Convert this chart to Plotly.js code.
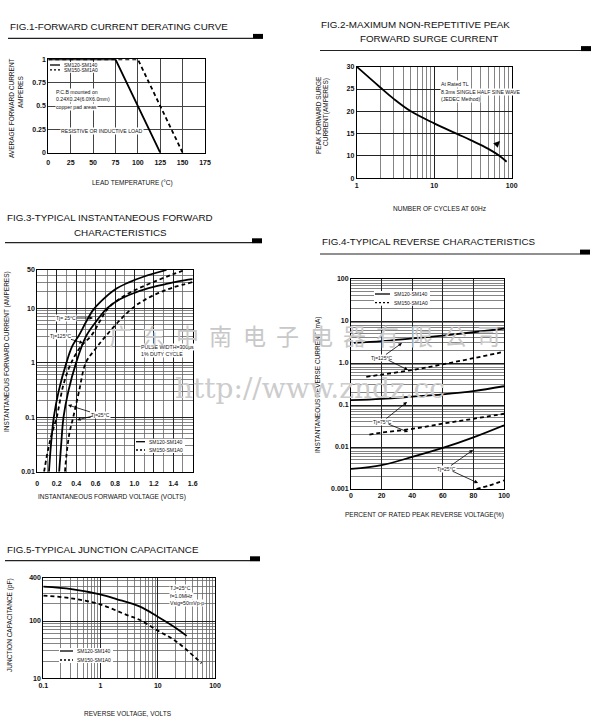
<!DOCTYPE html>
<html><head><meta charset="utf-8">
<script src="https://cdn.plot.ly/plotly-3.0.1.min.js"></script>
<style>body{margin:0;background:#fff}#chart{width:600px;height:725px}</style>
</head><body><div id="chart"></div>
<script>
// ---------------- DATA ----------------
// Fig.1 forward current derating
const f1Temp_SM120_140 = [0, 75, 125];
const f1Curr_SM120_140 = [1, 1, 0];
const f1Temp_SM150_1A0 = [0, 100, 150];
const f1Curr_SM150_1A0 = [1, 1, 0];
const f1XTicks = [0, 25, 50, 75, 100, 125, 150, 175];
const f1YTicks = [0, 0.25, 0.5, 0.75, 1];
const f1YTickText = ["0", "0.25", "0.5", "0.75", "1"];

// Fig.2 surge current (axis printed as 0,10,15,20,25,30 at equal spacing)
const f2Cycles = [1, 2, 3, 5, 10, 20, 30, 50, 70, 86];
const f2Surge = [30, 25.4, 22.8, 20.0, 17.3, 14.9, 13.5, 11.6, 10, 8.7];
const f2XTicks = [1, 10, 100];
const f2YTicks = [5, 10, 15, 20, 25, 30];
const f2YTickText = ["0", "10", "15", "20", "25", "30"];

// Fig.3 forward characteristics
const f3V_solidA = [0.12, 0.14, 0.17, 0.22, 0.30, 0.36, 0.43, 0.50, 0.57, 0.65, 0.80, 0.95, 1.10, 1.33];
const f3I_solidA = [0.01, 0.03, 0.1, 0.3, 1, 2, 3.2, 5.5, 9, 13, 22, 30, 38, 50];
const f3V_solidB = [0.225, 0.245, 0.27, 0.32, 0.40, 0.50, 0.60, 0.72, 0.85, 1.0, 1.13, 1.30, 1.45, 1.6];
const f3I_solidB = [0.01, 0.03, 0.1, 0.3, 1, 3, 5.5, 10, 14.5, 19, 22.7, 27, 31, 34];
const f3V_dashA = [0.07, 0.11, 0.15, 0.20, 0.27, 0.35, 0.45, 0.56, 0.65, 0.73, 0.90, 1.06, 1.25, 1.40, 1.52];
const f3I_dashA = [0.01, 0.025, 0.05, 0.1, 0.4, 1, 2, 3.2, 6, 10, 17, 23.7, 33, 42, 50];
const f3V_dashB = [0.285, 0.30, 0.33, 0.37, 0.43, 0.50, 0.60, 0.70, 0.85, 0.98, 1.10, 1.25, 1.40, 1.6];
const f3I_dashB = [0.01, 0.02, 0.05, 0.1, 0.3, 1, 1.8, 3, 6, 10, 14, 19, 24, 30];
const f3XTicks = [0, 0.2, 0.4, 0.6, 0.8, 1.0, 1.2, 1.4, 1.6];
const f3XTickText = ["0", "0.2", "0.4", "0.6", "0.8", "1.0", "1.2", "1.4", "1.6"];
const f3YTicks = [0.01, 0.1, 1, 10, 50];
const f3YTickText = ["0.01", "0.1", "1", "10", "50"];

// Fig.4 reverse characteristics (percent, mA)
const f4P_125s = [2, 20, 40, 60, 80, 100];
const f4I_125s = [3.0, 3.3, 3.85, 4.5, 5.4, 6.6];
const f4P_125d = [10, 20, 40, 60, 80, 100];
const f4I_125d = [0.47, 0.53, 0.68, 0.93, 1.3, 1.85];
const f4P_75s = [0, 20, 40, 60, 80, 100];
const f4I_75s = [0.13, 0.14, 0.158, 0.18, 0.215, 0.28];
const f4P_75d = [12, 20, 40, 60, 80, 100];
const f4I_75d = [0.0197, 0.022, 0.027, 0.036, 0.047, 0.062];
const f4P_25s = [0, 20, 40, 60, 80, 100];
const f4I_25s = [0.003, 0.0037, 0.0058, 0.0095, 0.017, 0.033];
const f4P_25d = [82, 90, 100];
const f4I_25d = [0.001, 0.0012, 0.0016];
const f4XTicks = [0, 20, 40, 60, 80, 100];
const f4YTicks = [0.001, 0.01, 0.1, 1, 10, 100];
const f4YTickText = ["0.001", "0.01", "0.1", "1.0", "10", "100"];

// Fig.5 junction capacitance (axis top printed "400")
const f5V_solid = [0.1, 0.31, 0.98, 1.9, 4.9, 10, 21, 32];
const f5C_solid = [397, 361, 292, 242, 178, 119, 75, 55];
const f5V_dash = [0.1, 0.31, 0.98, 2.9, 4.9, 9.5, 21, 58];
const f5C_dash = [277, 249, 195, 127, 104, 70, 44, 18.3];
const f5XTicks = [0.1, 1, 10, 100];
const f5XTickText = ["0.1", "1", "10", "100"];
const f5YTop = 570;
const f5YTicks = [10, 100, f5YTop];
const f5YTickText = ["10", "100", "400"];

// ---------------- HELPERS ----------------
const W = 600, H = 725;
const P = x => x / W, Q = y => 1 - y / H;
const NARROW = '"Liberation Sans", Arial, sans-serif';
const SANS = '"Liberation Sans", Arial, sans-serif';

function logMinor(lo, hi, maxVal) {
  const out = [];
  for (let e = lo; e < hi; e++) for (let d = 2; d <= 9; d++) {
    const v = d * Math.pow(10, e);
    if (maxVal === undefined || v < maxVal) out.push(v);
  }
  return out;
}
function linMinor(a, b, step) { const o = []; for (let v = a; v <= b + 1e-9; v += step) o.push(+v.toFixed(4)); return o; }

function axis(domain, range, type, tickvals, ticktext, anchor, minorVals, extra) {
  const a = {
    domain, range, type, anchor, tickmode: 'array', tickvals, ticktext: ticktext || tickvals.map(String),
    showline: true, mirror: true, linecolor: '#000', linewidth: 1,
    showgrid: true, gridcolor: '#222', gridwidth: 1, zeroline: false, ticks: '',
    tickfont: { family: NARROW, size: 7, weight: 'bold', color: '#111' }, fixedrange: true, layer: 'below traces'
  };
  if (minorVals) a.minor = { tickmode: 'array', tickvals: minorVals, showgrid: true, gridcolor: '#666', gridwidth: 0.8, ticks: '' };
  return Object.assign(a, extra || {});
}
function txt(x, y, text, size, extra) {
  return Object.assign({ xref: 'paper', yref: 'paper', x: P(x), y: Q(y), text, showarrow: false,
    xanchor: 'left', yanchor: 'middle', font: { family: NARROW, size, color: '#111' } }, extra || {});
}
function arr(tipX, tipY, textX, textY, text, size) {
  return { xref: 'paper', yref: 'paper', x: P(tipX), y: Q(tipY), ax: textX - tipX, ay: textY - tipY,
    text: text || '', showarrow: true, arrowhead: 2, arrowsize: 0.9, arrowwidth: 0.8, arrowcolor: '#000',
    font: { family: NARROW, size: size || 5, color: '#111' }, bgcolor: text ? '#fff' : 'rgba(0,0,0,0)', borderpad: 0 };
}
const solid = { color: '#000', width: 1.8 };
const dashed = { color: '#000', width: 1.8, dash: '4px,3px' };

// ---------------- TRACES ----------------
const traces = [
  { x: f1Temp_SM120_140, y: f1Curr_SM120_140, xaxis: 'x', yaxis: 'y', mode: 'lines', line: solid },
  { x: f1Temp_SM150_1A0, y: f1Curr_SM150_1A0, xaxis: 'x', yaxis: 'y', mode: 'lines', line: dashed },
  { x: f2Cycles, y: f2Surge, xaxis: 'x2', yaxis: 'y2', mode: 'lines', line: Object.assign({ shape: 'spline' }, solid) },
  { x: f3V_solidA, y: f3I_solidA, xaxis: 'x3', yaxis: 'y3', mode: 'lines', line: Object.assign({ shape: 'spline' }, solid) },
  { x: f3V_solidB, y: f3I_solidB, xaxis: 'x3', yaxis: 'y3', mode: 'lines', line: Object.assign({ shape: 'spline' }, solid) },
  { x: f3V_dashA, y: f3I_dashA, xaxis: 'x3', yaxis: 'y3', mode: 'lines', line: Object.assign({ shape: 'spline' }, dashed) },
  { x: f3V_dashB, y: f3I_dashB, xaxis: 'x3', yaxis: 'y3', mode: 'lines', line: Object.assign({ shape: 'spline' }, dashed) },
  { x: f4P_125s, y: f4I_125s, xaxis: 'x4', yaxis: 'y4', mode: 'lines', line: Object.assign({ shape: 'spline' }, solid) },
  { x: f4P_125d, y: f4I_125d, xaxis: 'x4', yaxis: 'y4', mode: 'lines', line: Object.assign({ shape: 'spline' }, dashed) },
  { x: f4P_75s, y: f4I_75s, xaxis: 'x4', yaxis: 'y4', mode: 'lines', line: Object.assign({ shape: 'spline' }, solid) },
  { x: f4P_75d, y: f4I_75d, xaxis: 'x4', yaxis: 'y4', mode: 'lines', line: Object.assign({ shape: 'spline' }, dashed) },
  { x: f4P_25s, y: f4I_25s, xaxis: 'x4', yaxis: 'y4', mode: 'lines', line: Object.assign({ shape: 'spline' }, solid) },
  { x: f4P_25d, y: f4I_25d, xaxis: 'x4', yaxis: 'y4', mode: 'lines', line: Object.assign({ shape: 'spline' }, dashed) },
  { x: f5V_solid, y: f5C_solid, xaxis: 'x5', yaxis: 'y5', mode: 'lines', line: Object.assign({ shape: 'spline' }, solid) },
  { x: f5V_dash, y: f5C_dash, xaxis: 'x5', yaxis: 'y5', mode: 'lines', line: Object.assign({ shape: 'spline' }, dashed) }
];
traces.forEach(t => { t.hoverinfo = 'skip'; t.showlegend = false; });

// ---------------- SHAPES (section header rules, legend keys) ----------------
const shapes = [];
const headers = [
  [8, 253, 38.3, 263], [320, 581, 50.5, 591], [5, 252, 242.7, 262], [320, 580, 254, 590], [5, 250, 560.7, 260]
];
headers.forEach(h => {
  shapes.push({ type: 'line', xref: 'paper', yref: 'paper', x0: P(h[0]), x1: P(h[1]), y0: Q(h[2]), y1: Q(h[2]), line: { color: '#222', width: 1.2 } });
  shapes.push({ type: 'rect', xref: 'paper', yref: 'paper', x0: P(h[1]), x1: P(h[3]), y0: Q(h[2] + 0.6), y1: Q(h[2] - 4.4), fillcolor: '#000', line: { width: 0 } });
});
function key(x0, x1, y, isDash) {
  shapes.push({ type: 'line', xref: 'paper', yref: 'paper', x0: P(x0), x1: P(x1), y0: Q(y), y1: Q(y), line: { color: '#000', width: 1.3, dash: isDash ? '2px,2px' : 'solid' } });
}

const annotations = [];
function legend(x0, x1, y1, y2, tx) {
  shapes.push({ type: 'rect', xref: 'paper', yref: 'paper', x0: P(x0 - 1), x1: P(tx + 38), y0: Q(y2 + 3), y1: Q(y1 - 3), fillcolor: '#fff', line: { width: 0 }, layer: 'above' });
  key(x0, x1, y1, false); key(x0, x1, y2, true);
  annotations.push(txt(tx, y1, 'SM120-SM140', 5));
  annotations.push(txt(tx, y2, 'SM150-SM1A0', 5));
}
legend(50, 60, 65, 69.8, 62);
legend(136, 145, 441.7, 450, 147);
legend(375, 390, 294, 302.7, 392);
legend(60, 73, 651, 660, 75);

// ---------------- TEXT ----------------
const TF = { family: '"Liberation Sans", Arial, sans-serif', size: 9.8, color: '#111' };
function title(x, y, text) { annotations.push(txt(x, y, text, 9.8, { font: TF })); }
title(8, 26, 'FIG.1-FORWARD CURRENT DERATING CURVE');
title(319, 24, 'FIG.2-MAXIMUM NON-REPETITIVE PEAK');
title(358, 38.5, 'FORWARD SURGE CURRENT');
title(5, 217, 'FIG.3-TYPICAL INSTANTANEOUS FORWARD');
title(72, 232, 'CHARACTERISTICS');
title(320, 242, 'FIG.4-TYPICAL REVERSE CHARACTERISTICS');
title(5, 549, 'FIG.5-TYPICAL JUNCTION CAPACITANCE');

// axis titles
function xt(xc, y, text) { annotations.push(txt(xc, y, text, 6.5, { xanchor: 'center', font: { family: SANS, size: 6.5, color: '#111' } })); }
function yt(x, yc, text) { annotations.push(txt(x, yc, text, 6.5, { xanchor: 'center', textangle: -90, font: { family: SANS, size: 6.5, color: '#111' } })); }
xt(132, 183, 'LEAD TEMPERATURE (°C)');
yt(12, 108, 'AVERAGE FORWARD CURRENT');
yt(20, 92, 'AMPERES');
xt(440, 209, 'NUMBER OF CYCLES AT 60Hz');
yt(319, 115, 'PEAK FORWARD SURGE');
yt(326, 112, 'CURRENT(AMPERES)');
xt(112, 497, 'INSTANTANEOUS FORWARD VOLTAGE (VOLTS)');
yt(7, 352, 'INSTANTANEOUS FORWARD CURRENT (AMPERES)');
xt(424, 515, 'PERCENT OF RATED PEAK REVERSE VOLTAGE(%)');
yt(318, 385, 'INSTANTANEOUS REVERSE CURRENT (mA)');
xt(128, 713, 'REVERSE VOLTAGE, VOLTS');
yt(10, 625, 'JUNCTION CAPACITANCE (pF)');

// notes
const WB = { bgcolor: '#fff', borderpad: 0 };
annotations.push(txt(55, 91.7, 'P.C.B mounted on', 5.2, WB));
annotations.push(txt(55, 99.3, '0.24X0.24(6.0X6.0mm)', 5.2, WB));
annotations.push(txt(55, 107.3, 'copper pad areas', 5.2, WB));
annotations.push(txt(60, 131, 'RESISTIVE OR INDUCTIVE LOAD', 5.2, WB));
annotations.push(txt(440, 84.3, 'At Rated TL', 5.2, WB));
annotations.push(txt(440, 91.7, '8.3ms SINGLE HALF SINE WAVE', 5.2, WB));
annotations.push(txt(440, 99.3, '(JEDEC Method)', 5.2, WB));
annotations.push(txt(140, 347, 'PULSE WIDTH=300μs', 5.2, WB));
annotations.push(txt(140, 354, '1% DUTY CYCLE', 5.2, WB));
annotations.push(txt(169, 588.3, 'TJ=25°C', 5.2, WB));
annotations.push(txt(169, 595.7, 'f=1.0MHz', 5.2, WB));
annotations.push(txt(169, 603.3, 'Vsig=50mVp-p', 5.2, WB));

// arrow labels
annotations.push(arr(93, 318, 66, 318, 'Tj= 25°C'));
annotations.push(arr(83, 343, 60, 336, 'Tj=125°C'));
annotations.push(arr(68, 405, 100, 415, 'Tj=25°C'));
annotations.push(arr(77, 420, 93, 416, ''));
annotations.push(arr(402, 343, 381, 358, 'Tj=125°C'));
annotations.push(arr(408, 370, 388, 360, ''));
annotations.push(arr(407, 402, 382, 422, 'Tj=75°C'));
annotations.push(arr(408, 432, 388, 424, ''));
annotations.push(arr(473, 450, 446, 469, 'Tj=25°C'));
annotations.push(arr(478, 483, 452, 471, ''));
annotations.push({ xref: 'paper', yref: 'paper', x: P(500), y: Q(141), ax: -4, ay: 4, text: '', showarrow: true, arrowhead: 2, arrowsize: 0.8, arrowwidth: 1.6, arrowcolor: '#000' });

// watermark
const wmChars = ['广', '东', '中', '南', '电', '子', '电', '器', '有', '限', '公', '司'];
wmChars.forEach((c, i) => annotations.push(txt(120 + i * 33.5, 335, c, 23, { xanchor: 'center', font: { family: '"Noto Sans CJK SC"', size: 23, color: '#c8c8c8' } })));
annotations.push(txt(310, 388, 'http://www.zndz.cc', 28, { xanchor: 'center', font: { family: '"DejaVu Serif", serif', size: 28, color: '#cccccc' } }));

// ---------------- LAYOUT ----------------
const layout = {
  width: W, height: H, margin: { l: 0, r: 0, t: 0, b: 0 }, paper_bgcolor: '#fff', plot_bgcolor: '#fff', showlegend: false,
  font: { family: NARROW, size: 7, color: '#111' },
  xaxis: axis([P(48.3), P(205)], [0, 175], 'linear', f1XTicks, null, 'y', null, { gridcolor: '#444', ticklabelstandoff: 3 }),
  yaxis: axis([Q(152.7), Q(59.3)], [0, 1], 'linear', f1YTicks, f1YTickText, 'x', null, { gridcolor: '#444' }),
  xaxis2: axis([P(356.7), P(511.7)], [0, 2], 'log', f2XTicks, null, 'y2', logMinor(0, 2)),
  yaxis2: axis([Q(178.3), Q(66.7)], [5, 30], 'linear', f2YTicks, f2YTickText, 'x2'),
  xaxis3: axis([P(37.3), P(192.7)], [0, 1.6], 'linear', f3XTicks, f3XTickText, 'y3', linMinor(0.1, 1.5, 0.2), { ticklabelstandoff: 5 }),
  yaxis3: axis([Q(471.7), Q(270)], [-2, Math.log10(50)], 'log', f3YTicks, f3YTickText, 'x3', logMinor(-2, 2, 50)),
  xaxis4: axis([P(351), P(504)], [0, 100], 'linear', f4XTicks, null, 'y4'),
  yaxis4: axis([Q(489), Q(279)], [-3, 2], 'log', f4YTicks, f4YTickText, 'x4', logMinor(-3, 2)),
  xaxis5: axis([P(43.3), P(215)], [-1, 2], 'log', f5XTicks, f5XTickText, 'y5', logMinor(-1, 2)),
  yaxis5: axis([Q(678.3), Q(577.7)], [1, Math.log10(f5YTop)], 'log', f5YTicks, f5YTickText, 'x5', logMinor(1, 3, f5YTop)),
  shapes, annotations
};

Plotly.newPlot('chart', traces, layout, { staticPlot: true, displayModeBar: false });
</script>
</body></html>
